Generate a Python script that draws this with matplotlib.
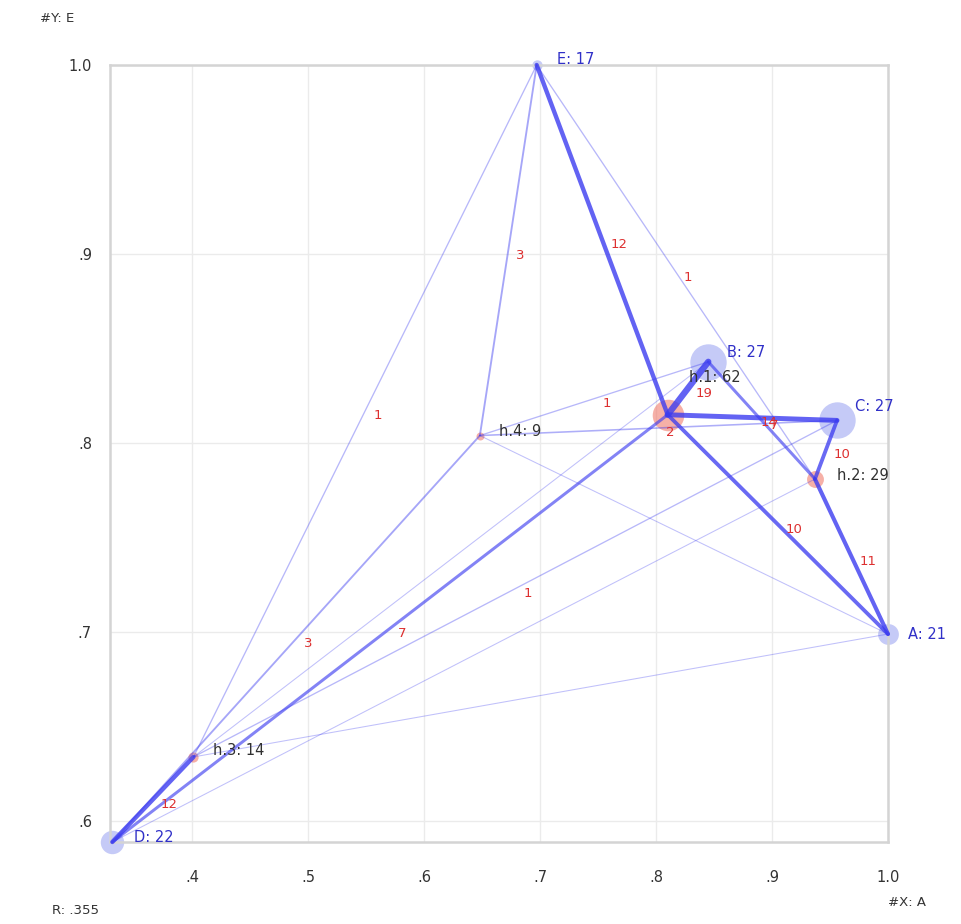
import numpy as np
import matplotlib
matplotlib.use('Agg')
import matplotlib.pyplot as plt
from matplotlib.ticker import FuncFormatter

# output nodes
letters = ['A', 'B', 'C', 'D', 'E']
letter_x = [1.0, 0.845, 0.956, 0.331, 0.697]
letter_y = [0.699, 0.843, 0.812, 0.589, 1.0]
letter_val = [21, 27, 27, 22, 17]

# hidden nodes
hidden = ['h.1', 'h.2', 'h.3', 'h.4']
hidden_x = [0.810, 0.937, 0.401, 0.648]
hidden_y = [0.815, 0.781, 0.634, 0.804]
hidden_val = [62, 29, 14, 9]

# link weights, rows = hidden, cols = A..E
w_h1 = [10, 19, 14, 7, 12]
w_h2 = [11, 7, 10, 0, 1]
w_h3 = [0, 0, 1, 12, 1]
w_h4 = [0, 1, 2, 3, 3]
weights = [w_h1, w_h2, w_h3, w_h4]

xticks = [0.4, 0.5, 0.6, 0.7, 0.8, 0.9, 1.0]
yticks = [0.6, 0.7, 0.8, 0.9, 1.0]

fig = plt.figure(figsize=(9.62, 9.24), dpi=100)
ax = fig.add_axes([110/962, 82/924, 778/962, 777/924])
ax.set_xlim(0.329, 1.0)
ax.set_ylim(0.589, 1.0)

# links
for i in range(len(hidden)):
    for j in range(len(letters)):
        w = weights[i][j]
        ax.plot([hidden_x[i], letter_x[j]], [hidden_y[i], letter_y[j]],
                color='#3c3cf0', lw=0.75 + 0.2*w, alpha=min(0.32 + 0.045*w, 0.8),
                solid_capstyle='round', clip_on=False, zorder=3)
        if round(w) >= 1:
            mx = (hidden_x[i] + letter_x[j]) / 2
            my = (hidden_y[i] + letter_y[j]) / 2
            ax.annotate(str(w), (mx, my), xytext=(8, -5), textcoords='offset pixels',
                        ha='left', va='center', fontsize=9.5, color='#dd3030', zorder=6)

# node circles
for x, y, v in zip(letter_x, letter_y, letter_val):
    r = 1.3*(v - 13)
    ax.plot(x, y, 'o', ms=2*r/1.389, color='#8c96f0', alpha=0.5, mec='none',
            clip_on=False, zorder=2)
for x, y, v in zip(hidden_x, hidden_y, hidden_val):
    r = 2 + v/4.5
    ax.plot(x, y, 'o', ms=2*r/1.389, color='#f07060', alpha=0.55, mec='none',
            clip_on=False, zorder=2)

# node labels
letter_off = {'A': (20, 0), 'B': (19, 9), 'C': (18, 14), 'D': (22, 5), 'E': (20, 6)}
hidden_off = {'h.1': (21, 37), 'h.2': (22, 4), 'h.3': (20, 6), 'h.4': (19, 4)}
for n, x, y, v in zip(letters, letter_x, letter_y, letter_val):
    ax.annotate(f'{n}: {v}', (x, y), xytext=letter_off[n], textcoords='offset pixels',
                ha='left', va='center', fontsize=10.5, color='#3030c8', zorder=7,
                annotation_clip=False)
for n, x, y, v in zip(hidden, hidden_x, hidden_y, hidden_val):
    ax.annotate(f'{n}: {v}', (x, y), xytext=hidden_off[n], textcoords='offset pixels',
                ha='left', va='center', fontsize=10.5, color='#303030', zorder=7,
                annotation_clip=False)

def fmt(v, pos):
    s = f'{v:.1f}'
    return s[1:] if s.startswith('0') else s

ax.set_xticks(xticks)
ax.set_yticks(yticks)
ax.xaxis.set_major_formatter(FuncFormatter(fmt))
ax.yaxis.set_major_formatter(FuncFormatter(fmt))
ax.tick_params(length=0, labelsize=10.5, labelcolor='#333333')
ax.tick_params(axis='x', pad=20)
ax.tick_params(axis='y', pad=13)
ax.grid(True, color='#ebebeb', lw=1)
ax.set_axisbelow(True)
for s in ax.spines.values():
    s.set_color('#d4d4d4')
    s.set_linewidth(1.8)

fig.text(40/962, 1 - 18/924, '#Y: E', fontsize=9.5, color='#333333', va='center')
fig.text(52/962, 1 - 910/924, 'R: .355', fontsize=9.5, color='#333333', va='center')
fig.text(888/962, 1 - 903/924, '#X: A', fontsize=9.5, color='#333333', va='center')

fig.savefig('out.png', dpi=100)
